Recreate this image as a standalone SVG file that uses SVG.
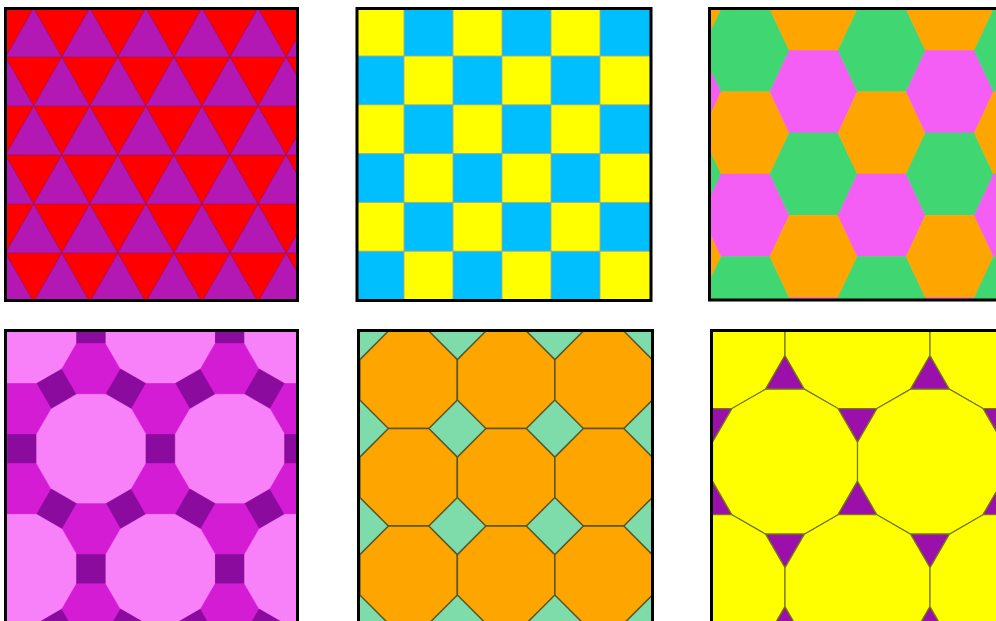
<svg xmlns="http://www.w3.org/2000/svg" width="996" height="621" viewBox="0 0 996 621">
<style>
.frame{fill:none;stroke:#000;stroke-width:3}
.red{fill:#ff0000}
.pur{fill:#b418b4;stroke:#901060;stroke-width:0.6}
.cy{fill:#00bfff}
.ye{fill:#ffff00;stroke:#a8a888;stroke-width:0.9}
.hg{fill:#40d671;stroke:#40d671;stroke-width:0.6}
.ho{fill:#ffa500;stroke:#ffa500;stroke-width:0.6}
.hp{fill:#f45ef4;stroke:#f45ef4;stroke-width:0.6}
.p4d{fill:#f880f8;stroke:#f880f8;stroke-width:0.5}
.p4h{fill:#d41cd4;stroke:#d41cd4;stroke-width:0.5}
.p4s{fill:#8a0b9e;stroke:#8a0b9e;stroke-width:0.5}
.aq{fill:#7ddcaa}
.oc{fill:#ffa500;stroke:#54562a;stroke-width:1.5}
.p6d{fill:#ffff00;stroke:#74741e;stroke-width:1.2}
.p6t{fill:#9b10aa;stroke:#74741e;stroke-width:1.2}
</style>
<defs>
<clipPath id="c1"><rect x="5" y="8" width="293" height="293"/></clipPath>
<clipPath id="c2"><rect x="357" y="8" width="294" height="293"/></clipPath>
<clipPath id="c3"><rect x="709" y="8" width="300" height="291"/></clipPath>
<clipPath id="c4"><rect x="5" y="330" width="293" height="300"/></clipPath>
<clipPath id="c5"><rect x="358" y="330" width="295" height="300"/></clipPath>
<clipPath id="c6"><rect x="711" y="330" width="300" height="300"/></clipPath>
<path id="triA" d="M-50.55,49L-22.5,0L5.55,49Z M5.55,49L33.6,0L61.65,49Z M61.65,49L89.7,0L117.75,49Z M117.75,49L145.8,0L173.85,49Z M173.85,49L201.9,0L229.95,49Z M229.95,49L258,0L286.05,49Z M286.05,49L314.1,0L342.15,49Z"/>
<path id="hex" d="M-43.7,0L-24.4,-41.2L24.4,-41.2L43.7,0L24.4,41.2L-24.4,41.2Z"/>
<path id="d12a" d="M54.67,-14.65L54.67,14.65L40.02,40.02L14.65,54.67L-14.65,54.67L-40.02,40.02L-54.67,14.65L-54.67,-14.65L-40.02,-40.02L-14.65,-54.67L14.65,-54.67L40.02,-40.02Z"/>
<rect id="sq4" x="-14.65" y="-14.65" width="29.3" height="29.3"/>
<path id="hx4" d="M-29.3,0L-14.65,-25.37L14.65,-25.37L29.3,0L14.65,25.37L-14.65,25.37Z"/>
<g id="cell4">
<use href="#d12a" class="p4d"/>
<use href="#sq4" class="p4s" transform="translate(69.33,0)"/>
<use href="#sq4" class="p4s" transform="translate(34.66,60.04) rotate(60)"/>
<use href="#sq4" class="p4s" transform="translate(-34.66,60.04) rotate(30)"/>
<use href="#hx4" class="p4h" transform="translate(69.33,40.02)"/>
<use href="#hx4" class="p4h" transform="translate(0,80.05)"/>
</g>
<path id="oct" d="M-20.19,-48.75L20.19,-48.75L48.75,-20.19L48.75,20.19L20.19,48.75L-20.19,48.75L-48.75,20.19L-48.75,-20.19Z"/>
<path id="d12b" d="M72.5,-19.43L72.5,19.43L53.08,53.08L19.43,72.5L-19.43,72.5L-53.08,53.08L-72.5,19.43L-72.5,-19.43L-53.08,-53.08L-19.43,-72.5L19.43,-72.5L53.08,-53.08Z"/>
<g id="cell6">
<use href="#d12b" class="p6d"/>
<path class="p6t" d="M72.5,19.43L91.93,53.07L53.07,53.07Z"/>
<path class="p6t" d="M-19.43,72.5L19.43,72.5L0,106.15Z"/>
</g>
</defs>
<rect width="996" height="621" fill="#ffffff"/>

<g id="panel-triangles">
<g clip-path="url(#c1)">
<rect class="red" x="0" y="0" width="310" height="310"/>
<use href="#triA" class="pur" transform="translate(0,8)"/>
<use href="#triA" class="pur" transform="translate(28.05,57)"/>
<use href="#triA" class="pur" transform="translate(0,106)"/>
<use href="#triA" class="pur" transform="translate(28.05,155)"/>
<use href="#triA" class="pur" transform="translate(0,204)"/>
<use href="#triA" class="pur" transform="translate(28.05,253)"/>
</g>
<rect class="frame" x="5.5" y="8.5" width="292" height="292"/>
</g>

<g id="panel-squares">
<g clip-path="url(#c2)">
<rect class="cy" x="350" y="0" width="310" height="310"/>
<rect class="ye" x="355" y="7.2" width="49" height="48.8"/>
<rect class="ye" x="453" y="7.2" width="49" height="48.8"/>
<rect class="ye" x="551" y="7.2" width="49" height="48.8"/>
<rect class="ye" x="404" y="56" width="49" height="48.8"/>
<rect class="ye" x="502" y="56" width="49" height="48.8"/>
<rect class="ye" x="600" y="56" width="55" height="48.8"/>
<rect class="ye" x="355" y="104.8" width="49" height="48.8"/>
<rect class="ye" x="453" y="104.8" width="49" height="48.8"/>
<rect class="ye" x="551" y="104.8" width="49" height="48.8"/>
<rect class="ye" x="404" y="153.6" width="49" height="48.8"/>
<rect class="ye" x="502" y="153.6" width="49" height="48.8"/>
<rect class="ye" x="600" y="153.6" width="55" height="48.8"/>
<rect class="ye" x="355" y="202.4" width="49" height="48.8"/>
<rect class="ye" x="453" y="202.4" width="49" height="48.8"/>
<rect class="ye" x="551" y="202.4" width="49" height="48.8"/>
<rect class="ye" x="404" y="251.2" width="49" height="55"/>
<rect class="ye" x="502" y="251.2" width="49" height="55"/>
<rect class="ye" x="600" y="251.2" width="55" height="55"/>
</g>
<rect class="frame" x="357" y="8.5" width="294" height="292"/>
</g>

<g id="panel-hexagons">
<g clip-path="url(#c3)">
<use href="#hex" class="ho" x="677.5" y="9.3"/>
<use href="#hex" class="hp" x="677.5" y="91.7"/>
<use href="#hex" class="hg" x="677.5" y="174.1"/>
<use href="#hex" class="ho" x="677.5" y="256.5"/>
<use href="#hex" class="hp" x="677.5" y="338.9"/>
<use href="#hex" class="hp" x="745.6" y="-31.9"/>
<use href="#hex" class="hg" x="745.6" y="50.5"/>
<use href="#hex" class="ho" x="745.6" y="132.9"/>
<use href="#hex" class="hp" x="745.6" y="215.3"/>
<use href="#hex" class="hg" x="745.6" y="297.7"/>
<use href="#hex" class="ho" x="813.7" y="9.3"/>
<use href="#hex" class="hp" x="813.7" y="91.7"/>
<use href="#hex" class="hg" x="813.7" y="174.1"/>
<use href="#hex" class="ho" x="813.7" y="256.5"/>
<use href="#hex" class="hp" x="813.7" y="338.9"/>
<use href="#hex" class="hp" x="881.8" y="-31.9"/>
<use href="#hex" class="hg" x="881.8" y="50.5"/>
<use href="#hex" class="ho" x="881.8" y="132.9"/>
<use href="#hex" class="hp" x="881.8" y="215.3"/>
<use href="#hex" class="hg" x="881.8" y="297.7"/>
<use href="#hex" class="ho" x="949.9" y="9.3"/>
<use href="#hex" class="hp" x="949.9" y="91.7"/>
<use href="#hex" class="hg" x="949.9" y="174.1"/>
<use href="#hex" class="ho" x="949.9" y="256.5"/>
<use href="#hex" class="hp" x="949.9" y="338.9"/>
<use href="#hex" class="hp" x="1018" y="-31.9"/>
<use href="#hex" class="hg" x="1018" y="50.5"/>
<use href="#hex" class="ho" x="1018" y="132.9"/>
<use href="#hex" class="hp" x="1018" y="215.3"/>
<use href="#hex" class="hg" x="1018" y="297.7"/>
</g>
<rect class="frame" x="709.5" y="8.5" width="300" height="291.5"/>
</g>

<g id="panel-4-6-12">
<g clip-path="url(#c4)">
<rect fill="#d41cd4" x="0" y="320" width="310" height="310"/>
<use href="#cell4" x="-116.75" y="328.9"/>
<use href="#cell4" x="21.9" y="328.9"/>
<use href="#cell4" x="160.55" y="328.9"/>
<use href="#cell4" x="299.2" y="328.9"/>
<use href="#cell4" x="-47.35" y="448.97"/>
<use href="#cell4" x="91.3" y="448.97"/>
<use href="#cell4" x="229.95" y="448.97"/>
<use href="#cell4" x="368.6" y="448.97"/>
<use href="#cell4" x="-116.75" y="569.04"/>
<use href="#cell4" x="21.9" y="569.04"/>
<use href="#cell4" x="160.55" y="569.04"/>
<use href="#cell4" x="299.2" y="569.04"/>
</g>
<rect class="frame" x="5.5" y="330.5" width="292" height="300"/>
</g>

<g id="panel-4-8-8">
<g clip-path="url(#c5)">
<rect class="aq" x="350" y="320" width="310" height="310"/>
<use href="#oct" class="oc" x="311.1" y="282.3"/>
<use href="#oct" class="oc" x="408.6" y="282.3"/>
<use href="#oct" class="oc" x="506.1" y="282.3"/>
<use href="#oct" class="oc" x="603.6" y="282.3"/>
<use href="#oct" class="oc" x="701.1" y="282.3"/>
<use href="#oct" class="oc" x="311.1" y="379.8"/>
<use href="#oct" class="oc" x="408.6" y="379.8"/>
<use href="#oct" class="oc" x="506.1" y="379.8"/>
<use href="#oct" class="oc" x="603.6" y="379.8"/>
<use href="#oct" class="oc" x="701.1" y="379.8"/>
<use href="#oct" class="oc" x="311.1" y="477.3"/>
<use href="#oct" class="oc" x="408.6" y="477.3"/>
<use href="#oct" class="oc" x="506.1" y="477.3"/>
<use href="#oct" class="oc" x="603.6" y="477.3"/>
<use href="#oct" class="oc" x="701.1" y="477.3"/>
<use href="#oct" class="oc" x="311.1" y="574.8"/>
<use href="#oct" class="oc" x="408.6" y="574.8"/>
<use href="#oct" class="oc" x="506.1" y="574.8"/>
<use href="#oct" class="oc" x="603.6" y="574.8"/>
<use href="#oct" class="oc" x="701.1" y="574.8"/>
<use href="#oct" class="oc" x="311.1" y="672.3"/>
<use href="#oct" class="oc" x="408.6" y="672.3"/>
<use href="#oct" class="oc" x="506.1" y="672.3"/>
<use href="#oct" class="oc" x="603.6" y="672.3"/>
<use href="#oct" class="oc" x="701.1" y="672.3"/>
</g>
<rect class="frame" x="358.5" y="330.5" width="294" height="300"/>
</g>

<g id="panel-3-12-12">
<g clip-path="url(#c6)">
<rect fill="#ffff00" x="700" y="320" width="310" height="310"/>
<use href="#cell6" x="712.5" y="336.1"/>
<use href="#cell6" x="857.5" y="336.1"/>
<use href="#cell6" x="1002.5" y="336.1"/>
<use href="#cell6" x="640" y="461.67"/>
<use href="#cell6" x="785" y="461.67"/>
<use href="#cell6" x="930" y="461.67"/>
<use href="#cell6" x="1075" y="461.67"/>
<use href="#cell6" x="712.5" y="587.24"/>
<use href="#cell6" x="857.5" y="587.24"/>
<use href="#cell6" x="1002.5" y="587.24"/>
</g>
<rect class="frame" x="711.5" y="330.5" width="300" height="300"/>
</g>
</svg>
